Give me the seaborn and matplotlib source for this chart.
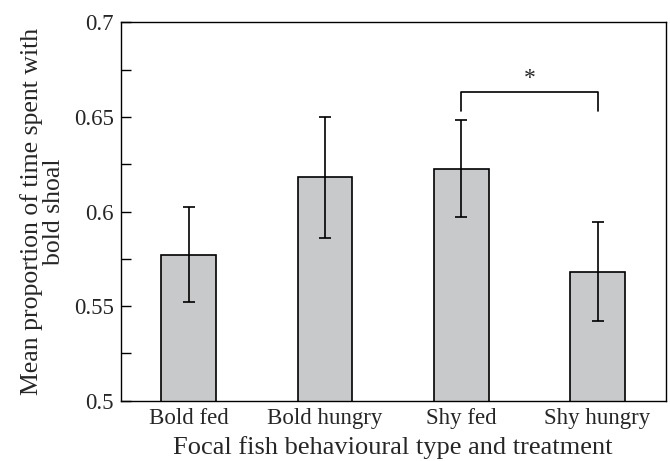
import matplotlib

matplotlib.use("Agg")

import matplotlib.pyplot as plt
import numpy as np
import pandas as pd
import seaborn as sns
from matplotlib.ticker import MultipleLocator

# datos
categorias = ["Bold fed", "Bold hungry", "Shy fed", "Shy hungry"]
medias = [0.577, 0.618, 0.6225, 0.568]
err_inf = [0.552, 0.586, 0.597, 0.542]
err_sup = [0.6025, 0.650, 0.6485, 0.5945]

sns.set_theme(style="ticks")
plt.rcParams["font.family"] = ["Liberation Serif", "DejaVu Serif"]

df = pd.DataFrame({"grupo": categorias, "media": medias})

fig = plt.figure(figsize=(6.7, 4.61), dpi=100)
ax = fig.add_axes([0.180, 0.1308, 0.8136, 0.8208])

sns.barplot(
    data=df, x="grupo", y="media", ax=ax, width=0.4,
    color="#c8c9cb", edgecolor="black", linewidth=1.2,
    errorbar=None, saturation=1,
)

x = np.arange(len(categorias))
medias_arr = np.array(medias)
yerr = np.vstack([medias_arr - np.array(err_inf), np.array(err_sup) - medias_arr])
ax.errorbar(x, medias_arr, yerr=yerr, fmt="none", ecolor="black",
            elinewidth=1.2, capsize=4, capthick=1.2, zorder=3)

# corchete de significación entre Shy fed y Shy hungry
ax.plot([2, 2, 3, 3], [0.653, 0.663, 0.663, 0.653], color="black", linewidth=1.2)
ax.text(2.5, 0.6705, "*", ha="center", va="center", fontsize=17)

ax.set_ylim(0.5, 0.7)
ax.set_xlim(-0.5, 3.5)
ax.yaxis.set_major_locator(MultipleLocator(0.05))
ax.yaxis.set_minor_locator(MultipleLocator(0.025))
ax.set_yticks([0.5, 0.55, 0.6, 0.65, 0.7], ["0.5", "0.55", "0.6", "0.65", "0.7"])
ax.tick_params(axis="y", which="both", direction="in", length=7, width=1,
               labelsize=16.5, pad=5, color="black")
ax.tick_params(axis="x", length=0, labelsize=16.5, pad=5)
for s in ax.spines.values():
    s.set_linewidth(1.0)
    s.set_color("black")

ax.set_xlabel("Focal fish behavioural type and treatment", fontsize=19, labelpad=5)
ax.set_ylabel("Mean proportion of time spent with\nbold shoal", fontsize=18.5,
              labelpad=6, linespacing=1.0)

fig.savefig("out.png", dpi=100)
plt.close(fig)
